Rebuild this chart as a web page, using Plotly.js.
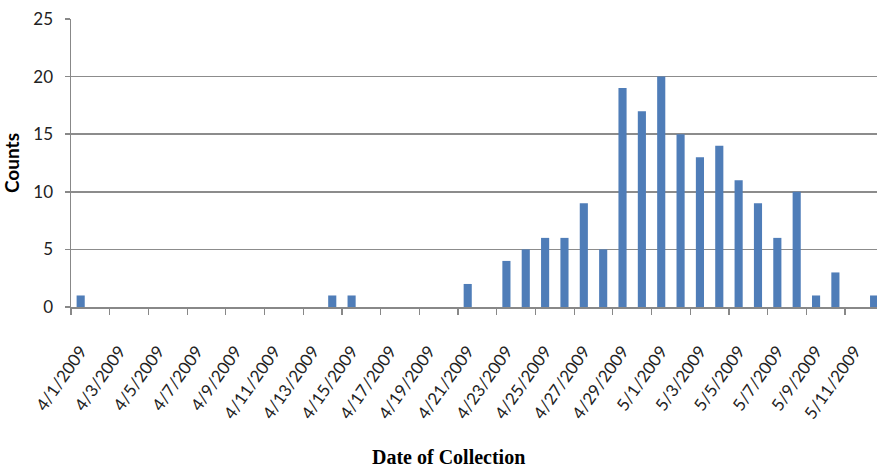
<!DOCTYPE html>
<html>
<head>
<meta charset="utf-8">
<script src="https://cdn.plot.ly/plotly-3.0.1.min.js"></script>
<style>html,body{margin:0;padding:0;background:#fff;}#chart{width:877px;height:470px;}</style>
</head>
<body>
<div id="chart"></div>
<script>
const dates = ["4/1/2009","4/2/2009","4/3/2009","4/4/2009","4/5/2009","4/6/2009","4/7/2009","4/8/2009","4/9/2009","4/10/2009",
  "4/11/2009","4/12/2009","4/13/2009","4/14/2009","4/15/2009","4/16/2009","4/17/2009","4/18/2009","4/19/2009","4/20/2009",
  "4/21/2009","4/22/2009","4/23/2009","4/24/2009","4/25/2009","4/26/2009","4/27/2009","4/28/2009","4/29/2009","4/30/2009",
  "5/1/2009","5/2/2009","5/3/2009","5/4/2009","5/5/2009","5/6/2009","5/7/2009","5/8/2009","5/9/2009","5/10/2009",
  "5/11/2009","5/12/2009"];
const counts = [1,0,0,0,0,0,0,0,0,0,
  0,0,0,1,1,0,0,0,0,0,
  2,0,4,5,6,6,9,5,19,17,
  20,15,13,14,11,9,6,10,1,3,
  0,1];
const tickLabels = ["4/1/2009","4/3/2009","4/5/2009","4/7/2009","4/9/2009","4/11/2009","4/13/2009","4/15/2009","4/17/2009","4/19/2009",
  "4/21/2009","4/23/2009","4/25/2009","4/27/2009","4/29/2009","5/1/2009","5/3/2009","5/5/2009","5/7/2009","5/9/2009","5/11/2009"];
const yTicks = [0,5,10,15,20,25];

// tick marks sit on the boundary before each labelled category
const boundaryTicks = tickLabels.map(l => dates.indexOf(l) - 0.5);
const xRange = [-0.5, 41.15];

const trace = {
  type: 'bar',
  x: dates,
  y: counts,
  marker: {color: '#4F7DB8'},
  hoverinfo: 'x+y'
};
const tickTrace = {type: 'scatter', mode: 'markers', x: [], y: [], xaxis: 'x2', yaxis: 'y', hoverinfo: 'skip'};

const layout = {
  width: 877, height: 470,
  margin: {l: 71, r: 0, t: 19, b: 163},
  paper_bgcolor: '#fff', plot_bgcolor: '#fff',
  bargap: 0.58,
  showlegend: false,
  font: {family: 'Lato, "Open Sans", sans-serif', color: '#222'},
  xaxis: {
    type: 'category',
    range: xRange,
    tickmode: 'array',
    tickvals: tickLabels,
    ticktext: tickLabels,
    ticks: '',
    tickangle: -55,
    tickfont: {size: 17, family: 'Lato, sans-serif', color: '#222'},
    ticklabelstandoff: 26,
    showgrid: false,
    showline: true, linecolor: '#888', linewidth: 1.5,
    zeroline: false
  },
  xaxis2: {
    type: 'linear',
    overlaying: 'x',
    anchor: 'y',
    side: 'bottom',
    range: xRange,
    tickmode: 'array',
    tickvals: boundaryTicks,
    showticklabels: false,
    ticks: 'outside', ticklen: 7, tickwidth: 1.2, tickcolor: '#888',
    showgrid: false, zeroline: false, showline: false
  },
  yaxis: {
    range: [0, 25],
    tickmode: 'array',
    tickvals: yTicks,
    ticks: 'outside', ticklen: 5, tickwidth: 1.5, tickcolor: '#888',
    tickfont: {size: 17, family: 'Lato, sans-serif', color: '#222'},
    ticklabelstandoff: 8,
    showgrid: true, gridcolor: '#8c8c8c', gridwidth: 1.5,
    showline: true, linecolor: '#888', linewidth: 1.5,
    zeroline: false,
    title: {text: '<b>Counts</b>', font: {family: 'Lato, sans-serif', size: 19, color: '#000'}, standoff: 12}
  },
  annotations: [{
    text: '<b>Date of Collection</b>',
    xref: 'paper', yref: 'paper',
    x: 0.468, y: -0.521, xanchor: 'center', yanchor: 'middle',
    showarrow: false,
    font: {family: '"Liberation Serif", "Times New Roman", serif', size: 20, color: '#000'}
  }]
};

Plotly.newPlot('chart', [trace, tickTrace], layout, {displayModeBar: false, staticPlot: true});
</script>
</body>
</html>
